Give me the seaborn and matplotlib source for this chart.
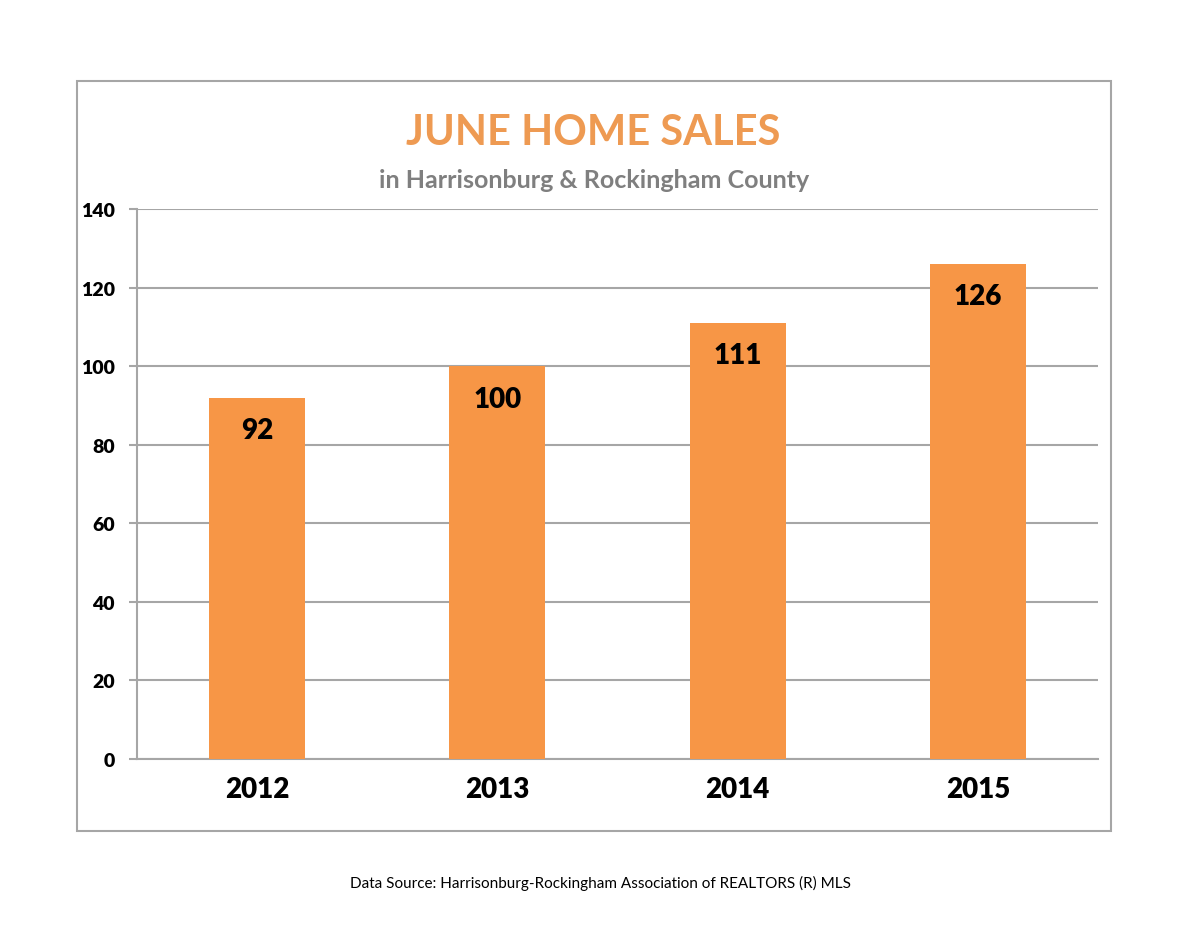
import matplotlib
matplotlib.use("Agg")
import matplotlib.pyplot as plt
import seaborn as sns
import pandas as pd
from matplotlib.patches import Rectangle

years = ["2012", "2013", "2014", "2015"]
sales = [92, 100, 111, 126]
y_ticks = [0, 20, 40, 60, 80, 100, 120, 140]

BAR_COLOR = "#F79646"
TITLE_COLOR = "#EE9A52"
SUB_COLOR = "#7F7F7F"
GRID_COLOR = "#A6A6A6"

sns.set_style("white")
plt.rcParams["font.family"] = ["Lato", "DejaVu Sans"]

df = pd.DataFrame({"year": years, "sales": sales})

fig = plt.figure(figsize=(12, 9.28), dpi=100)
ax = fig.add_axes([137 / 1200, 1 - 760 / 928, 961 / 1200, 550 / 928])

sns.barplot(data=df, x="year", y="sales", color=BAR_COLOR, saturation=1,
            width=0.4, linewidth=0, ax=ax, zorder=3)

ax.set_xlim(-0.5, 3.5)
ax.set_ylim(0, 140)
ax.set_yticks(y_ticks)
ax.set_yticklabels([str(t) for t in y_ticks], fontsize=14, fontweight="heavy",
                   color="black")
ax.set_xticks(range(len(years)))
ax.set_xticklabels(years, fontsize=20, fontweight="heavy", color="black")
ax.set_xlabel("")
ax.set_ylabel("")

ax.yaxis.grid(True, color=GRID_COLOR, linewidth=1.5, zorder=0)
ax.tick_params(axis="y", length=6, width=1.5, color=GRID_COLOR, pad=10,
               direction="out", left=True)
ax.tick_params(axis="x", length=0, pad=12)
for side in ["top", "right"]:
    ax.spines[side].set_visible(False)
for side in ["left", "bottom"]:
    ax.spines[side].set_color(GRID_COLOR)
    ax.spines[side].set_linewidth(1.5)

# value labels just inside top of bars
for i, v in enumerate(sales):
    ax.annotate(str(v), (i, v), xytext=(0, -14), textcoords="offset points",
                ha="center", va="top", fontsize=20, fontweight="heavy",
                color="black", zorder=4)

# outer frame
fig.patches.append(Rectangle((77 / 1200, 1 - 832 / 928), (1111 - 77) / 1200,
                             (832 - 82) / 928, transform=fig.transFigure,
                             fill=False, edgecolor=GRID_COLOR, linewidth=1.5))

fig.text(593 / 1200, 1 - 133 / 928, "JUNE HOME SALES", ha="center", va="center",
         fontsize=30, fontweight="bold", color=TITLE_COLOR)
fig.text(594 / 1200, 1 - 180 / 928, "in Harrisonburg & Rockingham County",
         ha="center", va="center", fontsize=18, fontweight="bold", color=SUB_COLOR)
fig.text(600 / 1200, 1 - 883 / 928,
         "Data Source: Harrisonburg-Rockingham Association of REALTORS (R) MLS",
         ha="center", va="center", fontsize=11, color="black")

fig.savefig("out.png", dpi=100, facecolor="white")
plt.close(fig)
